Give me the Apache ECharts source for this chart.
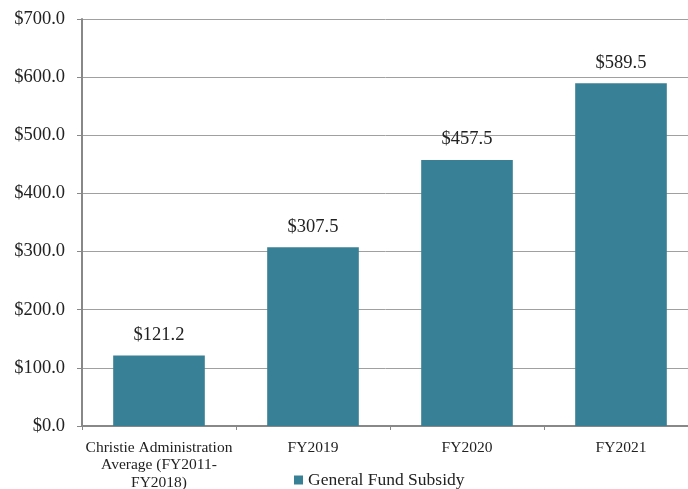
<!DOCTYPE html>
<html><head><meta charset="utf-8">
<script src="https://cdn.jsdelivr.net/npm/echarts@6/dist/echarts.min.js"></script>
<style>html,body{margin:0;padding:0;background:#fff}#c{width:688px;height:489px}</style>
</head><body><div id="c"></div>
<script>
const categories = ["Christie Administration\nAverage (FY2011-\nFY2018)", "FY2019", "FY2020", "FY2021"];
const subsidy = [121.2, 307.5, 457.5, 589.5];
const seriesName = "General Fund Subsidy";
const font = "'Liberation Serif', 'DejaVu Serif', serif";
const chart = echarts.init(document.getElementById('c'));
chart.setOption({
  animation: false,
  grid: {left: 82, top: 19, width: 616, height: 407, outerBoundsMode: 'none', containLabel: false},
  legend: {
    top: 466, left: 289, itemWidth: 9, itemHeight: 9, icon: 'rect', itemGap: 5,
    textStyle: {fontFamily: font, fontSize: 17.5, color: '#222'},
    data: [seriesName]
  },
  xAxis: {
    type: 'category', data: categories,
    axisLine: {lineStyle: {color: '#888', width: 2}},
    axisTick: {show: true, length: 4, lineStyle: {color: '#888'}},
    axisLabel: {fontFamily: font, fontSize: 15.5, color: '#222', lineHeight: 17.5, margin: 13, interval: 0}
  },
  yAxis: {
    type: 'value', min: 0, max: 700, interval: 100,
    axisLine: {show: true, lineStyle: {color: '#888', width: 2}},
    axisTick: {show: true, length: 5, lineStyle: {color: '#888'}},
    splitLine: {lineStyle: {color: '#a0a0a0', width: 1}},
    axisLabel: {fontFamily: font, fontSize: 18.5, color: '#222', margin: 17,
      formatter: v => '$' + v.toFixed(1)}
  },
  series: [{
    name: seriesName, type: 'bar', data: subsidy, barWidth: '59.5%',
    itemStyle: {color: '#388095'},
    label: {show: true, position: 'top', distance: 11, fontFamily: font, fontSize: 18.5, color: '#222',
      formatter: p => '$' + p.value.toFixed(1)}
  }]
});
</script></body></html>
